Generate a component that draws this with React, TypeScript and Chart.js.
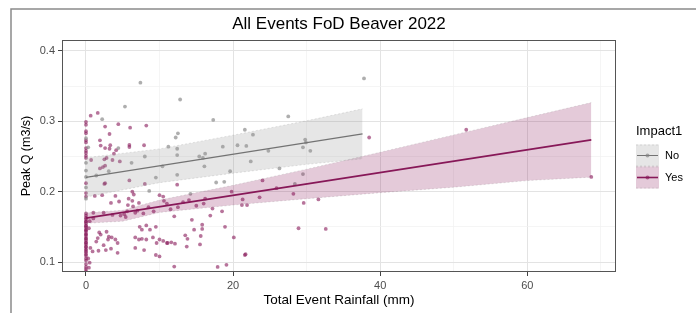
import React, { useEffect, useRef } from 'react';
import { Chart, registerables } from 'chart.js';
Chart.register(...registerables);

const chartTitle = 'All Events FoD Beaver 2022';
const xAxisTitle = 'Total Event Rainfall (mm)';
const yAxisTitle = 'Peak Q (m3/s)';
const legendTitle = 'Impact1';
const groupNames = ['No', 'Yes'];

const xTickValues = [0, 10, 20, 30, 40, 50, 60, 70];
const xTickLabels = ['0', '', '20', '', '40', '', '60', ''];
const yTickValues = [0.1, 0.15, 0.2, 0.25, 0.3, 0.35, 0.4];
const yTickLabels = ['0.1', '', '0.2', '', '0.3', '', '0.4'];

// Impact1 = No (grey)
const noX = [7.4, 12.8, 5.3, 17.3, 27.5, 37.8, 21.6, 22.7, 21.8, 29.8, 29.9, 29.5, 30.5, 22.4, 26.3, 29.5, 28.4, 12.4, 12.4, 15.4, 15.9, 9.5, 18.8, 12.5, 12.2, 11.2, 12.4, 16.2, 18.6, 0, 0, 0, 0, 0, 0.3, 1.4, 3.1, 8.0, 8.6, 16.1, 19.6, 20.6, 17.7, 14.2, 4.4, 6.2, 10.4, 24.8, 2.2, 0];
const noY = [0.355, 0.331, 0.321, 0.302, 0.307, 0.361, 0.288, 0.281, 0.265, 0.274, 0.270, 0.263, 0.258, 0.243, 0.233, 0.225, 0.211, 0.252, 0.224, 0.250, 0.248, 0.220, 0.214, 0.283, 0.277, 0.264, 0.261, 0.254, 0.264, 0.241, 0.230, 0.221, 0.206, 0.190, 0.263, 0.223, 0.229, 0.250, 0.201, 0.236, 0.229, 0.266, 0.213, 0.197, 0.262, 0.241, 0.236, 0.258, 0.303, 0.276];

// Impact1 = Yes (magenta)
const yesX = [
  0, 0, 0, 0, 0, 0, 0, 0, 0, 0, 0, 0, 0, 0, 0, 0, 0, 0, 0, 0, 0, 0, 0, 0, 0, 0, 0, 0, 0, 0, 0, 0, 0, 0, 0, 0, 0, 0, 0, 0, 0, 0, 0, 0, 0, 0, 0, 0, 0,
  0.4, 0.5, 0.3, 0.6, 0.4, 0.5,
  0.64, 1.6, 2.6, 4.4, 6.0, 8.2, 3.2, 1.9, 2.0, 2.6, 3.2, 3.3, 4.1, 5.9, 5.9, 7.9, 0.7, 2.5, 2.8, 3.6, 4.6, 3.8, 1.9, 2.3, 2.6, 2.5,
  1.2, 2.2, 4.0, 6.3, 6.5, 10.0, 10.5, 3.4, 4.5, 5.7, 6.4, 7.2, 5.8, 6.3, 10.6, 1.0, 2.4, 3.6, 4.7, 5.4, 6.7, 1.0,
  7.3, 7.6, 8.2, 8.7, 9.5, 1.8, 2.0, 2.8, 3.1, 4.0, 4.3, 1.4, 1.6, 2.4, 3.0, 3.5, 6.7, 7.2, 7.6, 6.7, 8.2, 9.1, 9.6, 10.0, 10.5, 11.1, 11.6, 12.1,
  0.9, 1.7, 2.7, 3.4, 4.3, 7.9, 10.0, 12.0, 17.9, 19.1, 21.7, 20.1, 18.9, 15.8, 15.8, 14.4, 14.7, 13.5, 13.8, 15.6, 15.5, 13.7, 11.0, 9.5,
  12.4, 8.0, 5.9, 2.6, 21.3, 21.9, 16.2, 28.9, 32.6, 21.6, 29.6, 31.6, 28.2, 21.2, 24.0, 51.7, 68.7, 38.5,
  11.5, 12.5, 13.2, 14.0, 15.0, 16.0, 17.2, 18.5, 12.0, 9.2, 8.5, 11.0, 5.2, 5.6, 7.0, 7.8, 19.8, 23.6, 25.9, 16.9
];
const yesY = [
  0.087, 0.090, 0.093, 0.097, 0.102, 0.105, 0.109, 0.111, 0.114, 0.116, 0.118, 0.121, 0.122, 0.125, 0.127, 0.128, 0.131, 0.133, 0.134, 0.137, 0.139, 0.140, 0.143, 0.145, 0.146, 0.149, 0.151, 0.152, 0.155, 0.157, 0.158, 0.161, 0.163, 0.166, 0.169, 0.193, 0.198, 0.212, 0.248, 0.251, 0.255, 0.258, 0.262, 0.270, 0.273, 0.283, 0.286, 0.295, 0.299,
  0.092, 0.099, 0.105, 0.120, 0.148, 0.158,
  0.308, 0.312, 0.2925, 0.296, 0.291, 0.294, 0.282, 0.273, 0.2655, 0.262, 0.261, 0.266, 0.259, 0.2665, 0.2635, 0.266, 0.245, 0.246, 0.248, 0.245, 0.243, 0.254, 0.233, 0.235, 0.237, 0.211,
  0.194, 0.195, 0.194, 0.200, 0.196, 0.195, 0.193, 0.184, 0.186, 0.181, 0.179, 0.184, 0.190, 0.187, 0.187, 0.170, 0.170, 0.167, 0.166, 0.164, 0.170, 0.162,
  0.150, 0.146, 0.152, 0.146, 0.150, 0.142, 0.139, 0.143, 0.136, 0.132, 0.127, 0.129, 0.134, 0.124, 0.132, 0.135, 0.135, 0.132, 0.133, 0.120, 0.132, 0.135, 0.127, 0.132, 0.130, 0.127, 0.128, 0.126,
  0.115, 0.116, 0.117, 0.119, 0.113, 0.117, 0.108, 0.0935, 0.093, 0.096, 0.111, 0.135, 0.150, 0.153, 0.147, 0.160, 0.146, 0.138, 0.133, 0.137, 0.125, 0.122, 0.127, 0.110,
  0.210, 0.211, 0.216, 0.212, 0.189, 0.181, 0.190, 0.148, 0.147, 0.110, 0.184, 0.189, 0.197, 0.181, 0.216, 0.288, 0.221, 0.277,
  0.175, 0.178, 0.185, 0.188, 0.180, 0.183, 0.176, 0.172, 0.165, 0.172, 0.178, 0.183, 0.168, 0.172, 0.173, 0.169, 0.200, 0.192, 0.205, 0.166
];

// Fitted lines and confidence bands
const noFitX = [0, 37.6];
const noFitY = [0.2203, 0.2822];
const noBandX = [0, 10, 20, 30, 37.6];
const noBandUpper = [0.2483, 0.2608, 0.2803, 0.3008, 0.3177];
const noBandLower = [0.1923, 0.2128, 0.2263, 0.2388, 0.2467];

const yesFitX = [0, 68.7];
const yesFitY = [0.1625, 0.2736];
const yesBandX = [0, 5, 10, 20, 30, 40, 50, 60, 68.7];
const yesBandUpper = [0.170, 0.1735, 0.188, 0.209, 0.232, 0.256, 0.2807, 0.3053, 0.3266];
const yesBandLower = [0.155, 0.158, 0.1705, 0.181, 0.190, 0.1985, 0.2063, 0.2157, 0.2206];

const FONT = '"Liberation Sans", Arial, sans-serif';
const NO_COLOR = 'rgba(115,115,115,1)';
const YES_COLOR = 'rgba(135,24,88,1)';
const NO_PT = 'rgba(130,130,130,0.65)';
const YES_PT = 'rgba(135,24,88,0.6)';
const NO_FILL = 'rgba(150,150,150,0.24)';
const YES_FILL = 'rgba(139,26,90,0.23)';
const BAND_EDGE = 'rgba(160,160,160,0.4)';

const zip = (xs: number[], ys: number[]) => xs.map((x, i) => ({ x, y: ys[i] }));

const frameAndLegend = {
  id: 'frameAndLegend',
  beforeDraw(chart: any) {
    const { ctx, width, height } = chart;
    ctx.save();
    ctx.fillStyle = '#fff';
    ctx.fillRect(0, 0, width, height);
    ctx.strokeStyle = '#8a8a8a';
    ctx.lineWidth = 1.5;
    ctx.beginPath();
    ctx.moveTo(11, height);
    ctx.lineTo(11, 9);
    ctx.lineTo(width, 9);
    ctx.stroke();
    ctx.restore();
  },
  afterDraw(chart: any) {
    const { ctx, chartArea } = chart;
    ctx.save();
    ctx.strokeStyle = '#555';
    ctx.lineWidth = 1;
    ctx.strokeRect(chartArea.left + 0.5, chartArea.top + 0.5, chartArea.right - chartArea.left - 1, chartArea.bottom - chartArea.top - 1);
    const mid = (chartArea.top + chartArea.bottom) / 2;
    const keyH = 22;
    const titleH = 21;
    const top = mid - (titleH + keyH * groupNames.length) / 2;
    const lx = chartArea.right + 20;
    ctx.fillStyle = '#000';
    ctx.font = `13px ${FONT}`;
    ctx.textBaseline = 'middle';
    ctx.textAlign = 'left';
    ctx.fillText(legendTitle, lx, top + 8);
    groupNames.forEach((g, i) => {
      const y0 = top + titleH + i * keyH;
      const fill = i === 0 ? NO_FILL : YES_FILL;
      const col = i === 0 ? NO_COLOR : YES_COLOR;
      ctx.fillStyle = fill;
      ctx.fillRect(lx, y0, 23, keyH);
      ctx.strokeStyle = BAND_EDGE;
      ctx.lineWidth = 0.8;
      ctx.setLineDash([2, 2]);
      ctx.beginPath();
      ctx.moveTo(lx, y0 + 0.5);
      ctx.lineTo(lx + 23, y0 + 0.5);
      ctx.moveTo(lx, y0 + keyH - 0.5);
      ctx.lineTo(lx + 23, y0 + keyH - 0.5);
      ctx.stroke();
      ctx.setLineDash([]);
      ctx.strokeStyle = col;
      ctx.lineWidth = i === 0 ? 1 : 1.6;
      ctx.beginPath();
      ctx.moveTo(lx + 1, y0 + keyH / 2);
      ctx.lineTo(lx + 22, y0 + keyH / 2);
      ctx.stroke();
      ctx.fillStyle = i === 0 ? NO_PT : YES_PT;
      ctx.beginPath();
      ctx.arc(lx + 11.5, y0 + keyH / 2, 2, 0, Math.PI * 2);
      ctx.fill();
      ctx.fillStyle = '#000';
      ctx.font = `11px ${FONT}`;
      ctx.fillText(g, lx + 29, y0 + keyH / 2 + 0.5);
    });
    ctx.restore();
  },
};

export default function App() {
  const ref = useRef<HTMLCanvasElement | null>(null);
  useEffect(() => {
    if (!ref.current) return;
    const chart = new Chart(ref.current, {
      type: 'scatter',
      data: {
        datasets: [
          { label: 'No fit', type: 'line', data: zip(noFitX, noFitY), borderColor: NO_COLOR, borderWidth: 1.1, pointRadius: 0, fill: false, order: 1 },
          { label: 'Yes fit', type: 'line', data: zip(yesFitX, yesFitY), borderColor: YES_COLOR, borderWidth: 1.7, pointRadius: 0, fill: false, order: 1 },
          { label: 'No upper', type: 'line', data: zip(noBandX, noBandUpper), borderColor: BAND_EDGE, borderWidth: 0.7, borderDash: [2, 2], pointRadius: 0, backgroundColor: NO_FILL, fill: 3, order: 5 },
          { label: 'No lower', type: 'line', data: zip(noBandX, noBandLower), borderColor: BAND_EDGE, borderWidth: 0.7, borderDash: [2, 2], pointRadius: 0, fill: false, order: 5 },
          { label: 'Yes upper', type: 'line', data: zip(yesBandX, yesBandUpper), borderColor: BAND_EDGE, borderWidth: 0.7, borderDash: [2, 2], pointRadius: 0, backgroundColor: YES_FILL, fill: 5, order: 5 },
          { label: 'Yes lower', type: 'line', data: zip(yesBandX, yesBandLower), borderColor: BAND_EDGE, borderWidth: 0.7, borderDash: [2, 2], pointRadius: 0, fill: false, order: 5 },
          { label: 'No', data: zip(noX, noY), backgroundColor: NO_PT, borderWidth: 0, pointRadius: 1.9, order: 10 },
          { label: 'Yes', data: zip(yesX, yesY), backgroundColor: YES_PT, borderWidth: 0, pointRadius: 1.9, order: 10 },
        ],
      },
      options: {
        animation: false,
        responsive: false,
        devicePixelRatio: 1,
        layout: { padding: { left: 0, right: 80, top: 0, bottom: 0 } },
        plugins: {
          legend: { display: false },
          tooltip: { enabled: false },
          title: {
            display: true,
            text: chartTitle,
            fullSize: false,
            color: '#000',
            font: { family: FONT, size: 17, weight: 'normal', lineHeight: 1.2 },
            padding: { top: 14, bottom: 5.6 },
          },
        },
        scales: {
          x: {
            type: 'linear',
            min: -3.26,
            max: 72.06,
            afterBuildTicks: (s: any) => { s.ticks = xTickValues.map((v) => ({ value: v })); },
            afterFit: (s: any) => { s.height = 41; },
            ticks: {
              callback: (_v: any, i: number) => xTickLabels[i],
              color: '#4d4d4d',
              font: { family: FONT, size: 11 },
              padding: 3,
              maxRotation: 0,
              autoSkip: false,
            },
            grid: {
              color: (c: any) => (c.index % 2 === 0 ? '#e3e3e3' : '#f0f0f0'),
              lineWidth: (c: any) => (c.index % 2 === 0 ? 1 : 0.7),
              tickColor: (c: any) => (c.index % 2 === 0 ? '#444' : 'rgba(0,0,0,0)'),
              tickLength: 4,
              tickWidth: 1,
            },
            border: { display: false },
            title: { display: true, text: xAxisTitle, color: '#000', font: { family: FONT, size: 13.5, lineHeight: 1.2 }, padding: { top: 0, bottom: 4.9 } },
          },
          y: {
            type: 'linear',
            min: 0.0858,
            max: 0.4156,
            afterBuildTicks: (s: any) => { s.ticks = yTickValues.map((v) => ({ value: v })); },
            afterFit: (s: any) => { s.width = 62; },
            ticks: {
              callback: (_v: any, i: number) => yTickLabels[i],
              color: '#4d4d4d',
              font: { family: FONT, size: 11 },
              padding: 3,
              autoSkip: false,
            },
            grid: {
              color: (c: any) => (c.index % 2 === 0 ? '#e3e3e3' : '#f0f0f0'),
              lineWidth: (c: any) => (c.index % 2 === 0 ? 1 : 0.7),
              tickColor: (c: any) => (c.index % 2 === 0 ? '#444' : 'rgba(0,0,0,0)'),
              tickLength: 4,
              tickWidth: 1,
            },
            border: { display: false },
            title: { display: true, text: yAxisTitle, color: '#000', font: { family: FONT, size: 12.5, lineHeight: 1.2 }, padding: { top: 19, bottom: 0 } },
          },
        },
      },
      plugins: [frameAndLegend],
    } as any);
    return () => chart.destroy();
  }, []);
  return (
    <div style={{ position: 'absolute', left: 0, top: 0, width: 696, height: 313 }}>
      <canvas ref={ref} width={696} height={313} />
    </div>
  );
}
